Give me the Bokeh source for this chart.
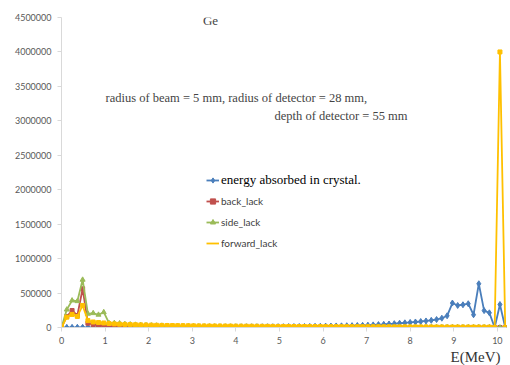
from bokeh.plotting import figure
from bokeh.models import (Label, Legend, LegendItem, SingleIntervalTicker,
                          NumeralTickFormatter, Range1d, Title)
from bokeh.embed import file_html
from bokeh.resources import INLINE

# Energy bin centres (MeV)
E = [round(0.1212 * i, 4) for i in range(85)]

absorbed = [0, 2000, 2000, 3000, 3000, 3000, 3000, 3000, 3000, 3000,
            3000, 3000, 3000, 3500, 3500, 4000, 4000, 4000, 4500, 4500,
            5000, 5000, 5500, 5500, 6000, 6000, 6500, 7000, 7000, 7500,
            8000, 8000, 8500, 9000, 9500, 10000, 10000, 10500, 10500, 11000,
            11000, 11500, 12000, 13000, 13500, 14000, 15000, 16000, 17000, 18500,
            20000, 21000, 22500, 24000, 25500, 27000, 29000, 31000, 34000, 38000,
            42000, 46000, 51000, 56000, 62000, 68000, 74000, 80000, 87000, 95000,
            104000, 116000, 135000, 170000, 355000, 320000, 330000, 345000, 185000, 635000,
            245000, 213000, 0, 334000, 0]

back_lack = [0, 160000, 247000, 174000, 562000, 62000, 45000, 30000, 25000, 18000,
             15000, 12000, 10000, 9000, 8000, 7000, 6000, 5000, 4500, 4000,
             3500, 3200, 3000, 2800, 2600, 2400, 2200, 2000, 1900, 1800,
             1700, 1600, 1500, 1400, 1300, 1200, 1100, 1000, 1000, 900,
             900, 800, 800, 700, 700, 600, 600, 600, 500, 500,
             500, 500, 400, 400, 400, 400, 400, 300, 300, 300,
             300, 300, 300, 200, 200, 200, 200, 200, 200, 200,
             200, 200, 200, 200, 200, 200, 200, 200, 200, 200,
             200, 200, 0, 0, 0]

side_lack = [0, 260000, 392000, 382000, 693000, 199000, 208000, 185000, 222000, 62000,
             65000, 60000, 50000, 45000, 40000, 36000, 33000, 30000, 28000, 26000,
             24000, 22000, 20000, 19000, 18000, 17000, 16000, 15500, 15000, 14500,
             14000, 13500, 13000, 12500, 12000, 11500, 11000, 11000, 10500, 10500,
             10000, 10000, 9500, 9500, 9000, 9000, 9000, 8500, 8500, 8500,
             8000, 8000, 8000, 7500, 7500, 7500, 7000, 7000, 7000, 7000,
             6500, 6500, 6500, 6500, 6000, 6000, 6000, 6000, 5500, 5500,
             5500, 5500, 5000, 5000, 5000, 5000, 4500, 4500, 4500, 4500,
             4000, 4000, 0, 0, 0]

forward_lack = [0, 150000, 190000, 160000, 320000, 100000, 80000, 72000, 66000, 58000,
                52000, 48000, 45000, 42000, 40000, 38000, 36000, 34000, 32000, 30000,
                29000, 28000, 27000, 26000, 25000, 24000, 23000, 22500, 22000, 21500,
                21000, 20500, 20000, 19500, 19000, 18500, 18000, 17500, 17000, 16500,
                16000, 15500, 15000, 15000, 14500, 14000, 14000, 13500, 13000, 13000,
                12500, 12000, 12000, 11500, 11500, 11000, 11000, 10500, 10500, 10000,
                10000, 9500, 9500, 9000, 9000, 9000, 8500, 8500, 8000, 8000,
                8000, 7500, 7500, 7000, 7000, 7000, 6500, 6500, 6500, 6000,
                6000, 6000, 0, 4000000, 0]

series_names = ["energy absorbed in crystal.", "back_lack", "side_lack", "forward_lack"]

p = figure(width=510, height=365, output_backend="svg", toolbar_location=None,
           x_range=Range1d(0, 10.21), y_range=Range1d(0, 4500000),
           min_border_left=61, min_border_right=4, min_border_top=17, min_border_bottom=38)
p.outline_line_color = None
p.grid.visible = False
p.background_fill_color = "white"

p.xaxis.ticker = SingleIntervalTicker(interval=1)
p.yaxis.ticker = SingleIntervalTicker(interval=500000)
p.yaxis.formatter = NumeralTickFormatter(format="0")
for ax in (p.xaxis[0], p.yaxis[0]):
    ax.axis_line_color = "#D9D9D9"
    ax.major_tick_line_color = "#D9D9D9"
    ax.minor_tick_line_color = None
    ax.major_tick_in = 0
    ax.major_tick_out = 4
    ax.major_label_text_font = "Lato"
    ax.major_label_text_font_size = "9px"
    ax.major_label_text_color = "#595959"
p.xaxis.major_label_standoff = 5
p.yaxis.major_label_standoff = 6

blue, red, green, gold = "#4A7EBB", "#C0504D", "#9BBB59", "#FFC000"

bl = p.line(E, absorbed, color=blue, line_width=1.8)
bs = p.scatter(E, absorbed, marker="diamond", size=6, color=blue)
rl = p.line(E, back_lack, color=red, line_width=1.8)
rs = p.scatter(E, back_lack, marker="square", size=4, color=red)
gl = p.line(E, side_lack, color=green, line_width=1.8)
gs = p.scatter(E, side_lack, marker="triangle", size=5, color=green)
yl = p.line(E, forward_lack, color=gold, line_width=1.8)
ys = p.scatter(E, forward_lack, marker="square", size=4, color=gold)

leg1 = Legend(items=[LegendItem(label=series_names[0], renderers=[bl, bs])],
              location=(145, 139), padding=0, margin=0, spacing=0,
              glyph_height=16, glyph_width=13, label_height=16, label_standoff=2,
              label_text_font="Liberation Serif", label_text_font_size="13px",
              label_text_color="black", border_line_color=None, background_fill_alpha=0)
leg2 = Legend(items=[LegendItem(label=series_names[1], renderers=[rl, rs]),
                     LegendItem(label=series_names[2], renderers=[gl, gs]),
                     LegendItem(label=series_names[3], renderers=[yl])],
              location=(145, 77), padding=0, margin=0, spacing=7,
              glyph_height=14, glyph_width=13, label_height=14, label_standoff=2,
              label_text_font="Lato", label_text_font_size="10px",
              label_text_color="#404040", border_line_color=None, background_fill_alpha=0)
p.add_layout(leg1, "center")
p.add_layout(leg2, "center")

serif = "Liberation Serif"
p.add_layout(Label(x=3.42, y=4462000, text="Ge", text_font=serif, text_font_size="13px",
                   text_align="center", text_baseline="middle"))
p.add_layout(Label(x=1.01, y=3328000,
                   text="radius of beam = 5 mm, radius of detector = 28 mm,",
                   text_font=serif, text_font_size="12.5px", text_align="left",
                   text_baseline="middle"))
p.add_layout(Label(x=7.94, y=3067000, text="depth of detector = 55 mm",
                   text_font=serif, text_font_size="12.5px", text_align="right",
                   text_baseline="middle"))
p.add_layout(Title(text="E(MeV)", align="right", offset=6, standoff=0,
                   text_font=serif, text_font_size="15px", text_font_style="normal",
                   text_color="#333333"), "below")

open("out.html", "w").write(file_html(p, INLINE))
